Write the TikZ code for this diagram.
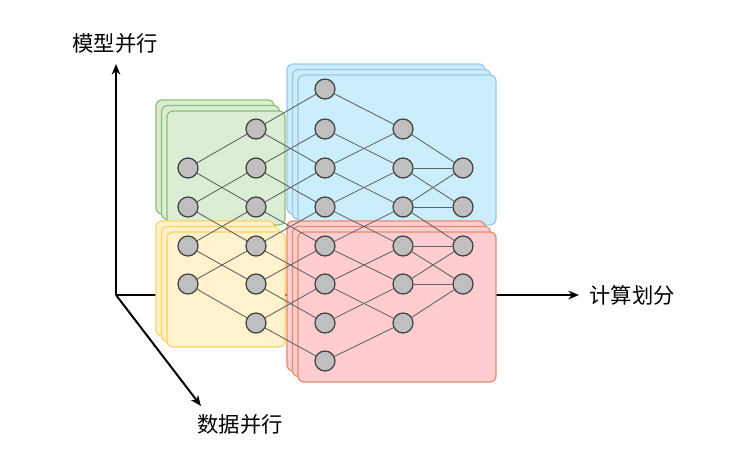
\documentclass[tikz,border=0pt]{standalone}
\usepackage{fontspec}
\usepackage{tikz}
\usetikzlibrary{arrows.meta}
\newfontfamily\cjk{Noto Sans CJK SC}
\definecolor{greenfill}{HTML}{DCEDD5}
\definecolor{greenline}{HTML}{8CC070}
\definecolor{yellowfill}{HTML}{FFF2CC}
\definecolor{yellowline}{HTML}{FFD35C}
\definecolor{bluefill}{HTML}{CBEEFC}
\definecolor{blueline}{HTML}{9FC4EE}
\definecolor{redfill}{HTML}{FFCDD0}
\definecolor{redline}{HTML}{E38B6C}

\begin{document}
\begin{tikzpicture}[x=0.75pt,y=-0.75pt]
  \tikzstyle{neuron}=[circle,draw=black!75,fill=black!25,line width=0.9pt,minimum size=15pt,inner sep=0pt]
  \tikzstyle{link}=[draw=black!62,line width=0.65pt]
  \tikzstyle{axis}=[line width=1.5pt,-{Stealth[length=8pt,width=6.5pt]}]
  \tikzstyle{layer}=[rounded corners=4.5pt,line width=0.9pt]
  \tikzstyle{axislabel}=[font=\cjk\fontsize{16}{19}\selectfont,inner sep=0pt]
  \useasboundingbox (0,0) rectangle (731,454);

  % axes
  \coordinate (O) at (116,295);
  \coordinate (M) at (116,64);
  \coordinate (P) at (579,295);
  \coordinate (D) at (201,406);
  \draw[axis] (O) -- (M);
  \draw[axis] (O) -- (P);
  \draw[axis] (O) -- (D);
  \node[axislabel] (M_t) at (115,43) {模型并行};
  \node[axislabel] (P_t) at (632,295) {计算划分};
  \node[axislabel] (D_t) at (240,424) {数据并行};

  % stacked partitions
  \draw[layer,draw=greenline,fill=greenfill] (156,100) rectangle (274,214);
  \draw[layer,draw=greenline,fill=greenfill] (161.5,105.5) rectangle (279.5,219.5);
  \draw[layer,draw=greenline,fill=greenfill] (167,111) rectangle (285,225);
  \draw[layer,draw=yellowline,fill=yellowfill] (156,221) rectangle (274,336);
  \draw[layer,draw=yellowline,fill=yellowfill] (161.5,226.5) rectangle (279.5,341.5);
  \draw[layer,draw=yellowline,fill=yellowfill] (167,232) rectangle (285,347);
  \draw[layer,draw=blueline,fill=bluefill] (287,64) rectangle (485,214);
  \draw[layer,draw=blueline,fill=bluefill] (292.5,69.5) rectangle (490.5,219.5);
  \draw[layer,draw=blueline,fill=bluefill] (298,75) rectangle (496,225);
  \draw[layer,draw=redline,fill=redfill] (287,221) rectangle (485,371);
  \draw[layer,draw=redline,fill=redfill] (292.5,226.5) rectangle (490.5,376.5);
  \draw[layer,draw=redline,fill=redfill] (298,232) rectangle (496,382);

  % neurons
  \node[neuron] (A_3) at (188,168) {};
  \node[neuron] (A_4) at (188,207) {};
  \node[neuron] (A_5) at (188,246) {};
  \node[neuron] (A_6) at (188,284) {};
  \node[neuron] (B_2) at (256,129) {};
  \node[neuron] (B_3) at (256,168) {};
  \node[neuron] (B_4) at (256,207) {};
  \node[neuron] (B_5) at (256,246) {};
  \node[neuron] (B_6) at (256,284) {};
  \node[neuron] (B_7) at (256,323) {};
  \node[neuron] (C_1) at (325,89) {};
  \node[neuron] (C_2) at (325,129) {};
  \node[neuron] (C_3) at (325,168) {};
  \node[neuron] (C_4) at (325,207) {};
  \node[neuron] (C_5) at (325,246) {};
  \node[neuron] (C_6) at (325,284) {};
  \node[neuron] (C_7) at (325,323) {};
  \node[neuron] (C_8) at (325,361) {};
  \node[neuron] (D_2) at (403,129) {};
  \node[neuron] (D_3) at (403,168) {};
  \node[neuron] (D_4) at (403,207) {};
  \node[neuron] (D_5) at (403,246) {};
  \node[neuron] (D_6) at (403,284) {};
  \node[neuron] (D_7) at (403,323) {};
  \node[neuron] (E_3) at (463,168) {};
  \node[neuron] (E_4) at (463,207) {};
  \node[neuron] (E_5) at (463,246) {};
  \node[neuron] (E_6) at (463,284) {};

  % links
  \draw[link] (A_3) -- (B_2); \draw[link] (A_3) -- (B_4);
  \draw[link] (A_4) -- (B_3); \draw[link] (A_4) -- (B_5);
  \draw[link] (A_5) -- (B_4); \draw[link] (A_5) -- (B_6);
  \draw[link] (A_6) -- (B_5); \draw[link] (A_6) -- (B_7);
  \draw[link] (B_2) -- (C_1); \draw[link] (B_2) -- (C_3);
  \draw[link] (B_3) -- (C_2); \draw[link] (B_3) -- (C_4);
  \draw[link] (B_4) -- (C_3); \draw[link] (B_4) -- (C_5);
  \draw[link] (B_5) -- (C_4); \draw[link] (B_5) -- (C_6);
  \draw[link] (B_6) -- (C_5); \draw[link] (B_6) -- (C_7);
  \draw[link] (B_7) -- (C_6); \draw[link] (B_7) -- (C_8);
  \draw[link] (C_1) -- (D_2);
  \draw[link] (C_2) -- (D_3);
  \draw[link] (C_3) -- (D_2); \draw[link] (C_3) -- (D_4);
  \draw[link] (C_4) -- (D_3); \draw[link] (C_4) -- (D_5);
  \draw[link] (C_5) -- (D_4); \draw[link] (C_5) -- (D_6);
  \draw[link] (C_6) -- (D_5); \draw[link] (C_6) -- (D_7);
  \draw[link] (C_7) -- (D_6);
  \draw[link] (C_8) -- (D_7);
  \draw[link] (D_2) -- (E_3);
  \draw[link] (D_3) -- (E_3); \draw[link] (D_3) -- (E_4);
  \draw[link] (D_4) -- (E_3); \draw[link] (D_4) -- (E_4); \draw[link] (D_4) -- (E_5);
  \draw[link] (D_5) -- (E_5); \draw[link] (D_5) -- (E_6);
  \draw[link] (D_6) -- (E_5); \draw[link] (D_6) -- (E_6);
  \draw[link] (D_7) -- (E_6);
\end{tikzpicture}
\end{document}
